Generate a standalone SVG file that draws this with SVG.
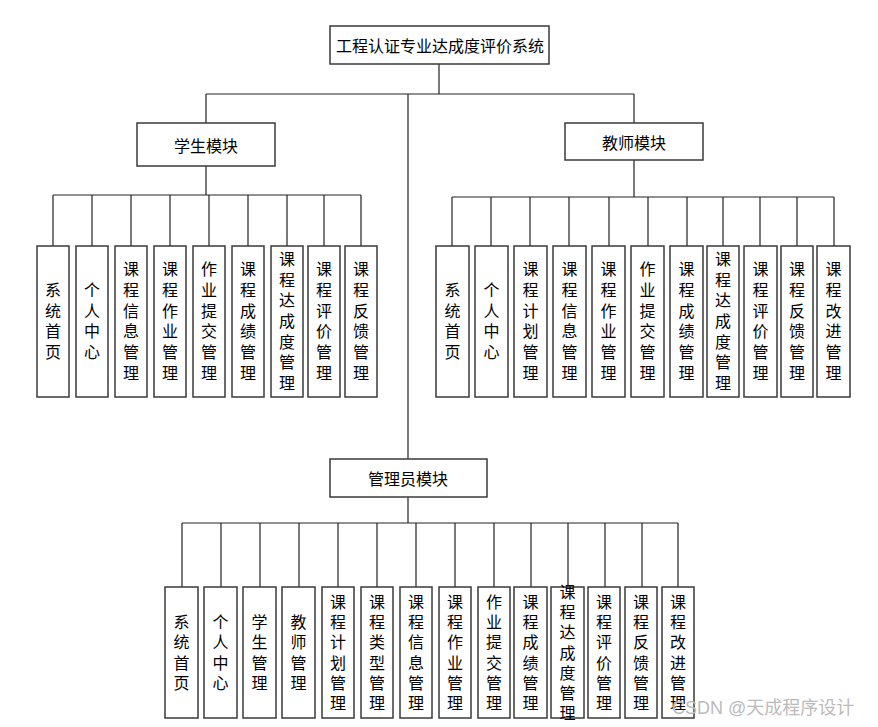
<svg xmlns="http://www.w3.org/2000/svg" width="878" height="727" viewBox="0 0 878 727">
<style>
.bx{fill:#fff;stroke:#3a3a3a;stroke-width:1.5}
.ln{fill:none;stroke:#222;stroke-width:1.2}
.t{font-family:"Noto Sans CJK SC","Liberation Sans",sans-serif;font-size:16px;fill:#000;text-anchor:middle;dominant-baseline:central}
.v{font-family:"Noto Sans CJK SC","Liberation Sans",sans-serif;font-size:16px;fill:#000;text-anchor:middle;writing-mode:vertical-rl;text-orientation:upright;letter-spacing:4.7px}
.va{letter-spacing:4.3px}
.wm{font-family:"Liberation Sans","Noto Sans CJK SC",sans-serif;font-size:18px;fill:#bbb}
</style>
<rect width="878" height="727" fill="#fff"/>
<g id="connectors" class="ln">
<path d="M439 64V94M206 94H634M206 94V123M634 94V123M408 94V459"/>
<path d="M206 166V195M53 195H361M53 195V246M92 195V246M131 195V246M170 195V246M209 195V246M248 195V246M287 195V246M324 195V246M361 195V246"/>
<path d="M634 160V197M452 197H834M452 197V246M491 197V246M530 197V246M569 197V246M609 197V246M648 197V246M687 197V246M723 197V246M760 197V246M797 197V246M834 197V246"/>
<path d="M408 497V523M182 523H678M182 523V587M221 523V587M260 523V587M299 523V587M338 523V587M377 523V587M416 523V587M455 523V587M494 523V587M531 523V587M568 523V587M605 523V587M642 523V587M678 523V587"/>
</g>
<g id="root"><rect class="bx" x="330" y="26" width="219" height="38"/><text class="t" x="440" y="45">工程认证专业达成度评价系统</text></g>
<g id="student"><rect class="bx" x="137" y="123" width="138" height="43"/><text class="t" x="206" y="144.5">学生模块</text></g>
<g id="teacher"><rect class="bx" x="565" y="123" width="138" height="37"/><text class="t" x="634" y="142">教师模块</text></g>
<g id="admin"><rect class="bx" x="330" y="459" width="157" height="38"/><text class="t" x="408" y="478">管理员模块</text></g>

<g id="s1"><rect class="bx" x="37" y="246" width="32" height="151"/><text class="v" x="53" y="323.3">系统首页</text></g>
<g id="s2"><rect class="bx" x="76" y="246" width="32" height="151"/><text class="v" x="92" y="323.3">个人中心</text></g>
<g id="s3"><rect class="bx" x="115" y="246" width="32" height="151"/><text class="v" x="131" y="323.3">课程信息管理</text></g>
<g id="s4"><rect class="bx" x="154" y="246" width="32" height="151"/><text class="v" x="170" y="323.3">课程作业管理</text></g>
<g id="s5"><rect class="bx" x="193" y="246" width="32" height="151"/><text class="v" x="209" y="323.3">作业提交管理</text></g>
<g id="s6"><rect class="bx" x="232" y="246" width="32" height="151"/><text class="v" x="248" y="323.3">课程成绩管理</text></g>
<g id="s7"><rect class="bx" x="271" y="246" width="32" height="151"/><text class="v" x="287" y="323.3">课程达成度管理</text></g>
<g id="s8"><rect class="bx" x="308" y="246" width="32" height="151"/><text class="v" x="324" y="323.3">课程评价管理</text></g>
<g id="s9"><rect class="bx" x="345" y="246" width="32" height="151"/><text class="v" x="361" y="323.3">课程反馈管理</text></g>

<g id="t1"><rect class="bx" x="436" y="246" width="33" height="151"/><text class="v" x="452.5" y="323.3">系统首页</text></g>
<g id="t2"><rect class="bx" x="475" y="246" width="33" height="151"/><text class="v" x="491.5" y="323.3">个人中心</text></g>
<g id="t3"><rect class="bx" x="514" y="246" width="33" height="151"/><text class="v" x="530.5" y="323.3">课程计划管理</text></g>
<g id="t4"><rect class="bx" x="553" y="246" width="33" height="151"/><text class="v" x="569.5" y="323.3">课程信息管理</text></g>
<g id="t5"><rect class="bx" x="592" y="246" width="33" height="151"/><text class="v" x="608.5" y="323.3">课程作业管理</text></g>
<g id="t6"><rect class="bx" x="631" y="246" width="33" height="151"/><text class="v" x="647.5" y="323.3">作业提交管理</text></g>
<g id="t7"><rect class="bx" x="670" y="246" width="33" height="151"/><text class="v" x="686.5" y="323.3">课程成绩管理</text></g>
<g id="t8"><rect class="bx" x="707" y="246" width="32" height="151"/><text class="v" x="723" y="323.3">课程达成度管理</text></g>
<g id="t9"><rect class="bx" x="744" y="246" width="33" height="151"/><text class="v" x="760.5" y="323.3">课程评价管理</text></g>
<g id="t10"><rect class="bx" x="781" y="246" width="32" height="151"/><text class="v" x="797" y="323.3">课程反馈管理</text></g>
<g id="t11"><rect class="bx" x="817" y="246" width="33" height="151"/><text class="v" x="833.5" y="323.3">课程改进管理</text></g>

<g id="a1"><rect class="bx" x="165" y="587" width="33" height="131"/><text class="v va" x="181.5" y="654.6">系统首页</text></g>
<g id="a2"><rect class="bx" x="204" y="587" width="33" height="131"/><text class="v va" x="220.5" y="654.6">个人中心</text></g>
<g id="a3"><rect class="bx" x="243" y="587" width="33" height="131"/><text class="v va" x="259.5" y="654.6">学生管理</text></g>
<g id="a4"><rect class="bx" x="282" y="587" width="33" height="131"/><text class="v va" x="298.5" y="654.6">教师管理</text></g>
<g id="a5"><rect class="bx" x="322" y="587" width="32" height="131"/><text class="v va" x="338" y="654.6">课程计划管理</text></g>
<g id="a6"><rect class="bx" x="361" y="587" width="32" height="131"/><text class="v va" x="377" y="654.6">课程类型管理</text></g>
<g id="a7"><rect class="bx" x="400" y="587" width="32" height="131"/><text class="v va" x="416" y="654.6">课程信息管理</text></g>
<g id="a8"><rect class="bx" x="439" y="587" width="32" height="131"/><text class="v va" x="455" y="654.6">课程作业管理</text></g>
<g id="a9"><rect class="bx" x="478" y="587" width="32" height="131"/><text class="v va" x="494" y="654.6">作业提交管理</text></g>
<g id="a10"><rect class="bx" x="514" y="587" width="33" height="131"/><text class="v va" x="530.5" y="654.6">课程成绩管理</text></g>
<g id="a11"><rect class="bx" x="551" y="587" width="33" height="131"/><text class="v va" x="567.5" y="654.6">课程达成度管理</text></g>
<g id="a12"><rect class="bx" x="588" y="587" width="32" height="131"/><text class="v va" x="604" y="654.6">课程评价管理</text></g>
<g id="a13"><rect class="bx" x="625" y="587" width="32" height="131"/><text class="v va" x="641" y="654.6">课程反馈管理</text></g>
<g id="a14"><rect class="bx" x="662" y="587" width="32" height="131"/><text class="v va" x="678" y="654.6">课程改进管理</text></g>

<text class="wm" x="672" y="714">CSDN @天成程序设计</text>
</svg>
